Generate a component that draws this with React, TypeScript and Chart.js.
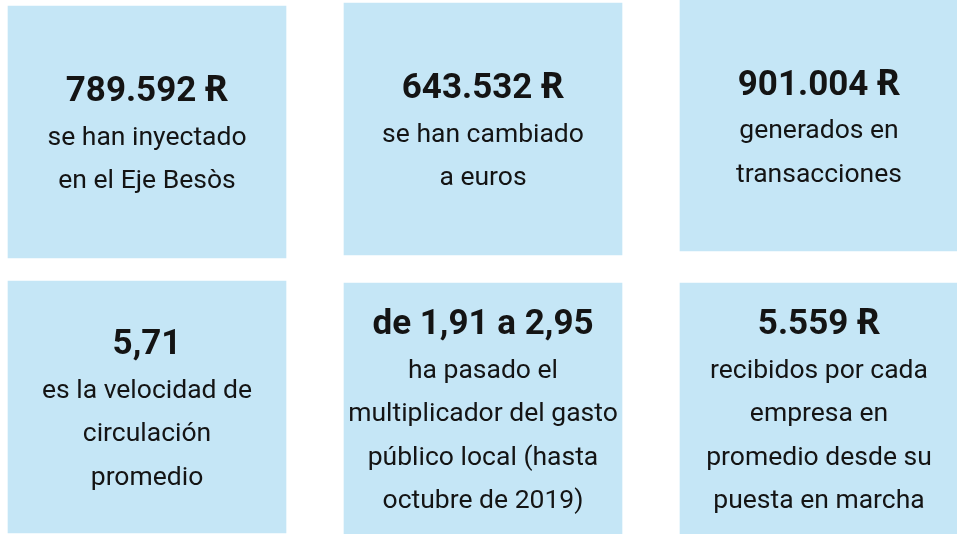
import React, { useEffect, useRef } from "react";
import { Chart, registerables } from "chart.js";

Chart.register(...registerables);

// Headline figures shown in each tile (row-major: top row, then bottom row)
const titles = ["789.592 Ɍ", "643.532 Ɍ", "901.004 Ɍ", "5,71", "de 1,91 a 2,95", "5.559 Ɍ"];
const captions: string[][] = [
  ["se han inyectado", "en el Eje Besòs"],
  ["se han cambiado", "a euros"],
  ["generados en", "transacciones"],
  ["es la velocidad de", "circulación", "promedio"],
  ["ha pasado el", "multiplicador del gasto", "público local (hasta", "octubre de 2019)"],
  ["recibidos por cada", "empresa en", "promedio desde su", "puesta en marcha"],
];
// Column of each tile and its vertical extent on the layout scale
const tileColumn = [0, 1, 2, 0, 1, 2];
const tileTop = [6, 3, 0, 281, 283, 283];
const tileBottom = [258, 255, 251, 533, 534, 534];

const BOX = "#c5e6f6";
const FONT = "Roboto, 'Noto Sans', 'DejaVu Sans', sans-serif";

export default function App() {
  const ref = useRef<HTMLCanvasElement>(null);
  useEffect(() => {
    const canvas = ref.current;
    if (!canvas) return;
    const topRow = [0, 1, 2].map((i) => ({ x: tileColumn[i], y: [tileTop[i], tileBottom[i]] }));
    const bottomRow = [3, 4, 5].map((i) => ({ x: tileColumn[i], y: [tileTop[i], tileBottom[i]] }));

    const textPlugin = {
      id: "tileText",
      afterDatasetsDraw(chart: any) {
        const ctx = chart.ctx as CanvasRenderingContext2D;
        ctx.save();
        ctx.textAlign = "center";
        ctx.textBaseline = "alphabetic";
        ctx.fillStyle = "#141414";
        chart.data.datasets.forEach((_: any, di: number) => {
          const meta = chart.getDatasetMeta(di);
          meta.data.forEach((el: any, j: number) => {
            const idx = di * 3 + j;
            const cx = el.x;
            const cy = (el.y + el.base) / 2;
            const lines = captions[idx];
            const cap = 25;
            const step = 43.5;
            const h = cap + step * lines.length;
            const base = cy - h / 2 + cap;
            ctx.font = `bold 35px ${FONT}`;
            ctx.fillText(titles[idx], cx, base);
            ctx.font = `400 26.5px ${FONT}`;
            lines.forEach((ln, k) => ctx.fillText(ln, cx, base + step * (k + 1)));
          });
        });
        ctx.restore();
      },
    };

    const chart = new Chart(canvas, {
      type: "bar",
      data: {
        datasets: [
          { label: "fila 1", data: topRow as any, backgroundColor: BOX, borderWidth: 0, borderSkipped: false, barThickness: 278, grouped: false } as any,
          { label: "fila 2", data: bottomRow as any, backgroundColor: BOX, borderWidth: 0, borderSkipped: false, barThickness: 278, grouped: false } as any,
        ],
      },
      options: {
        animation: false,
        responsive: false,
        maintainAspectRatio: false,
        layout: { padding: 0 },
        events: [],
        plugins: { legend: { display: false }, tooltip: { enabled: false } },
        scales: {
          x: { type: "linear", min: -0.4375, max: 2.4107, offset: false, display: false },
          y: { type: "linear", min: 0, max: 534, reverse: true, display: false },
        },
      },
      plugins: [textPlugin],
    });
    return () => chart.destroy();
  }, []);

  return (
    <div style={{ position: "absolute", left: 0, top: 0, width: 957, height: 534, background: "#fff" }}>
      <canvas ref={ref} width={957} height={534} style={{ display: "block" }} />
    </div>
  );
}
